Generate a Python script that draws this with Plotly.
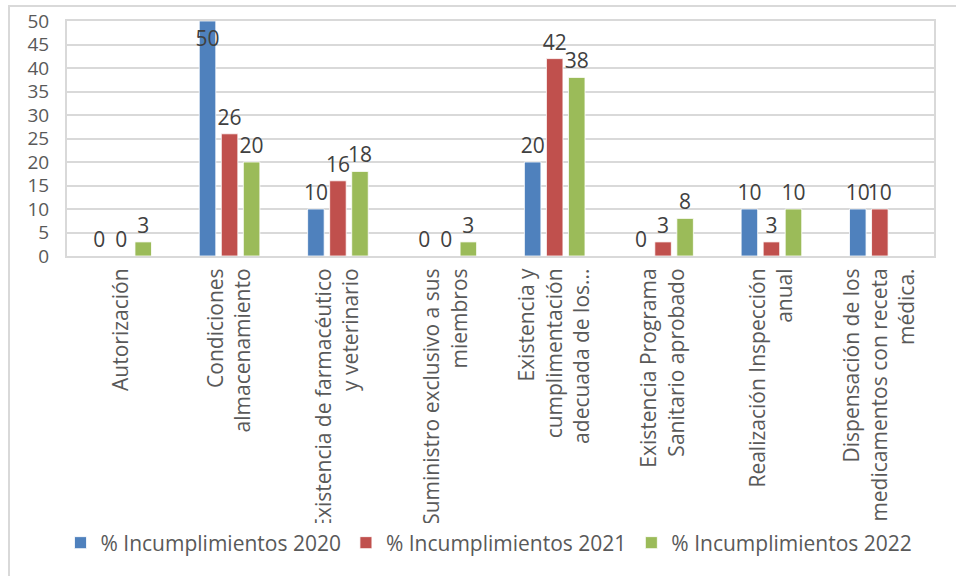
import plotly.graph_objects as go

categories = [
    "Autorización",
    "Condiciones<br>almacenamiento",
    "Existencia de farmacéutico<br>y veterinario",
    "Suministro exclusivo a sus<br>miembros",
    "Existencia y<br>cumplimentación<br>adecuada de los...",
    "Existencia Programa<br>Sanitario aprobado",
    "Realización Inspección<br>anual",
    "Dispensación de los<br>medicamentos con receta<br>médica.",
]
inc_2020 = [0, 50, 10, 0, 20, 0, 10, 10]
inc_2021 = [0, 26, 16, 0, 42, 3, 3, 10]
inc_2022 = [3, 20, 18, 3, 38, 8, 10, None]
y_ticks = [0, 5, 10, 15, 20, 25, 30, 35, 40, 45, 50]

series = [
    ("% Incumplimientos 2020", inc_2020, "#4f81bd"),
    ("% Incumplimientos 2021", inc_2021, "#c0504d"),
    ("% Incumplimientos 2022", inc_2022, "#9bbb59"),
]

FONT = "Open Sans"
FS = 21
W, H = 956, 576
L, R, T, B = 67, 22, 21, 320
pw = W - L - R
ph = H - T - B

fig = go.Figure()
for name, vals, color in series:
    fig.add_trace(
        go.Bar(
            x=categories,
            y=vals,
            name=name,
            marker=dict(color=color, line=dict(color="white", width=0.8)),
            text=["" if v is None else str(v) for v in vals],
            # the bar that hits the top of the axis gets its label inside
            textposition=["inside" if (v or 0) >= 50 else "outside" for v in vals],
            insidetextanchor="end",
            constraintext="none",
            textfont=dict(family=FONT, size=FS, color="#404040"),
            insidetextfont=dict(family=FONT, size=FS, color="#404040"),
            cliponaxis=False,
        )
    )

# outer chart border (Excel chart area), runs off the right/bottom edge
fig.add_shape(
    type="rect",
    xref="paper",
    yref="paper",
    x0=(9 - L) / pw,
    x1=(W + 5 - L) / pw,
    y0=(ph + T - (H + 5)) / ph,
    y1=(ph + T - 6) / ph,
    line=dict(color="#d9d9d9", width=2),
    layer="below",
)

fig.update_layout(
    width=W,
    height=H,
    margin=dict(l=L, r=R, t=T, b=B, autoexpand=False),
    barmode="group",
    bargap=0.39,
    bargroupgap=0.25,
    plot_bgcolor="white",
    paper_bgcolor="white",
    font=dict(family=FONT, size=FS, color="#595959"),
    legend=dict(
        orientation="h",
        x=(489 - L) / pw,
        xanchor="center",
        y=(T + ph - 543) / ph,
        yanchor="middle",
        font=dict(family=FONT, size=FS, color="#595959"),
        itemwidth=30,
    ),
)
fig.update_xaxes(
    automargin=False,
    tickangle=-90,
    showline=True,
    linecolor="#d9d9d9",
    linewidth=2,
    mirror=True,
    ticks="",
    ticklabelstandoff=2,
    tickfont=dict(family=FONT, size=FS, color="#595959"),
)
fig.update_yaxes(
    automargin=False,
    range=[0, 50],
    tickmode="array",
    tickvals=y_ticks,
    showgrid=True,
    gridcolor="#d9d9d9",
    gridwidth=1.5,
    showline=True,
    linecolor="#d9d9d9",
    linewidth=2,
    mirror=True,
    ticks="outside",
    ticklen=12,
    tickcolor="rgba(0,0,0,0)",
    zeroline=False,
    tickfont=dict(family=FONT, size=19, color="#595959"),
)

# drop the default 8px body margin so the figure fills the window exactly
fig.write_html(
    "out.html",
    config={"displayModeBar": False},
    post_script="document.body.style.margin='0';",
)
